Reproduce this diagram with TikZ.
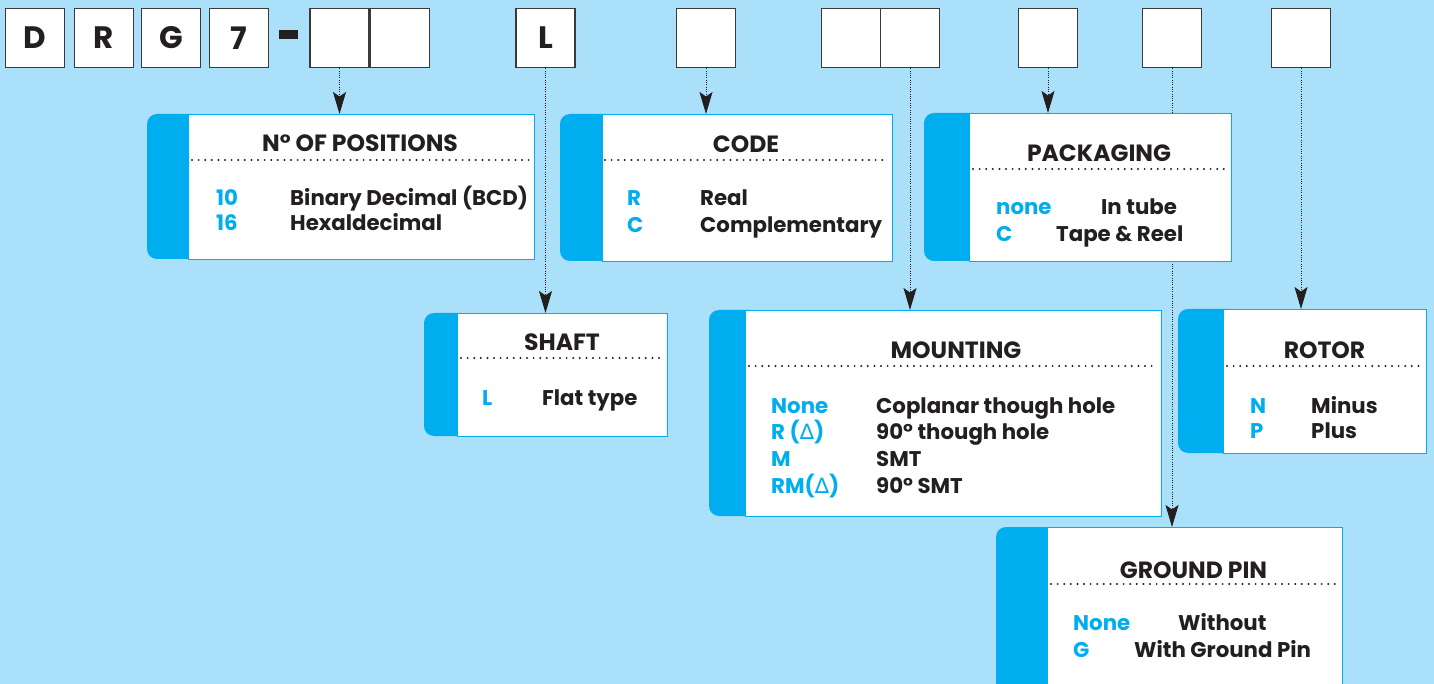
\documentclass[tikz,border=0pt]{standalone}
\usepackage{fontspec}
\setmainfont{Poppins}
\newfontfamily\dejavu{DejaVu Sans}
\usetikzlibrary{arrows.meta}
\definecolor{bgblue}{HTML}{AAE0FA}
\definecolor{cyanb}{HTML}{00AEEF}
\definecolor{ink}{HTML}{231F20}
\definecolor{boxline}{HTML}{3A3A3A}
\pgfdeclarelayer{bglayer}
\pgfdeclarelayer{connlayer}
\pgfsetlayers{bglayer,connlayer,main}
\newcommand\mkinfo[6]{%
  \fill[cyanb, rounded corners=10pt] (#2,#3) rectangle (#4+14,#6);
  \node[infobody, minimum width=#5-#4, minimum height=#6-#3] (#1) at (#4,#3) {};
}
\begin{document}
\begin{tikzpicture}[x=1pt,y=-1pt,
 topbox/.style={draw=boxline, line width=1.6pt, fill=white, minimum width=59pt, minimum height=59pt, inner sep=0pt, font=\bfseries\fontsize{31}{31}\selectfont, text=ink},
 infobody/.style={draw=cyanb, line width=1.2pt, fill=white, anchor=north west, inner sep=0pt},
 conn/.style={draw=ink, line width=1pt, dash pattern=on 1pt off 1.3pt, -{Stealth[length=22pt,width=13pt,inset=4.5pt]}},
 ttl/.style={anchor=base, inner sep=0pt, font=\bfseries\fontsize{23.5}{23.5}\selectfont, text=ink},
 desc/.style={anchor=base west, inner sep=0pt, font=\bfseries\fontsize{21.3}{21.3}\selectfont, text=ink},
 key/.style={anchor=base west, inner sep=0pt, font=\bfseries\fontsize{21.3}{21.3}\selectfont, text=cyanb},
 sep/.style={draw=ink, line width=2.2pt, line cap=round, dash pattern=on 0pt off 6.6pt}
]
\begin{pgfonlayer}{bglayer}
\fill[bgblue] (0,0) rectangle (1434,684);
\end{pgfonlayer}
\useasboundingbox (0,0) rectangle (1434,684);
\clip (0,0) rectangle (1434,684);

% top code boxes
\node[topbox] (tD) at (35,38) {D};
\node[topbox] (tR) at (104,38) {R};
\node[topbox] (tG) at (171,38) {G};
\node[topbox] (t7) at (239,38) {7};
\fill[ink] (279,30) rectangle (298,39);
\node[topbox] (tpa) at (339.5,38) {};
\node[topbox] (tpb) at (400,38) {};
\node[topbox] (tL) at (545.5,38) {L};
\node[topbox] (tc) at (706,38) {};
\node[topbox] (tma) at (851,38) {};
\node[topbox] (tmb) at (910,38) {};
\node[topbox] (tpk) at (1048,38) {};
\node[topbox] (tgp) at (1172,38) {};
\node[topbox] (tro) at (1301,38) {};

% info boxes
\mkinfo{pos}{147}{114}{188}{534}{259}
\mkinfo{code}{560}{114}{602}{892}{261}
\mkinfo{pack}{924}{113}{969}{1231}{261}
\mkinfo{shaft}{424}{313}{457}{667}{436}
\mkinfo{mount}{709}{310}{745}{1161}{516}
\mkinfo{rotor}{1178}{309}{1223}{1426}{453}
\mkinfo{ground}{996}{527}{1047}{1342}{700}

% connectors
\begin{pgfonlayer}{connlayer}
\draw[conn] (tpa.south) -- (tpa.south |- pos.north);
\draw[conn] (tL.south) -- (tL.south |- shaft.north);
\draw[conn] (tc.south) -- (tc.south |- code.north);
\draw[conn] (tmb.south) -- (tmb.south |- mount.north);
\draw[conn] (tpk.south) -- (tpk.south |- pack.north);
\draw[conn] (tgp.south) -- (tgp.south |- ground.north);
\draw[conn] (tro.south) -- (tro.south |- rotor.north);
\end{pgfonlayer}

% N of positions
\node[ttl] (posT) at (360,152) {N° OF POSITIONS};
\draw[sep] (192,160) -- (531,160);
\node[key] (posk1) at (216,206) {10};
\node[desc] (posd1) at (290,206) {Binary Decimal (BCD)};
\node[key] (posk2) at (216,231) {16};
\node[desc] (posd2) at (290,231) {Hexaldecimal};

% code
\node[ttl] (codeT) at (746,153) {CODE};
\draw[sep] (605,160) -- (888,160);
\node[key] (codek1) at (627,206) {R};
\node[desc] (coded1) at (700,206) {Real};
\node[key] (codek2) at (627,233) {C};
\node[desc] (coded2) at (700,233) {Complementary};

% packaging
\node[ttl] (packT) at (1099,162) {PACKAGING};
\draw[sep] (973,169) -- (1227,169);
\node[key] (packk1) at (996,215) {none};
\node[desc] (packd1) at (1101,215) {In tube};
\node[key] (packk2) at (996,242) {C};
\node[desc] (packd2) at (1056,242) {Tape \& Reel};

% shaft
\node[ttl] (shaftT) at (562,351) {SHAFT};
\draw[sep] (461,358) -- (663,358);
\node[key] (shaftk1) at (482,405) {L};
\node[desc] (shaftd1) at (542,405) {Flat type};

% mounting
\node[ttl] (mountT) at (956,358) {MOUNTING};
\draw[sep] (749,366) -- (1157,366);
\node[key] (mk1) at (771,413) {None};
\node[desc] (md1) at (876,413) {Coplanar though hole};
\node[key] (mk2) at (771,439) {R ({\dejavu\mdseries ∆})};
\node[desc] (md2) at (876,439) {90° though hole};
\node[key] (mk3) at (771,466) {M};
\node[desc] (md3) at (876,466) {SMT};
\node[key] (mk4) at (771,493) {RM({\dejavu\mdseries ∆})};
\node[desc] (md4) at (876,493) {90° SMT};

% rotor
\node[ttl] (rotorT) at (1324.5,359) {ROTOR};
\draw[sep] (1227,366) -- (1422,366);
\node[key] (rk1) at (1250,413) {N};
\node[desc] (rd1) at (1311,413) {Minus};
\node[key] (rk2) at (1250,438) {P};
\node[desc] (rd2) at (1311,438) {Plus};

% ground pin
\node[ttl] (gT) at (1193.5,578) {GROUND PIN};
\draw[sep] (1051,584) -- (1338,584);
\node[key] (gk1) at (1073,630) {None};
\node[desc] (gd1) at (1178,630) {Without};
\node[key] (gk2) at (1073,657) {G};
\node[desc] (gd2) at (1134,657) {With Ground Pin};
\end{tikzpicture}
\end{document}
